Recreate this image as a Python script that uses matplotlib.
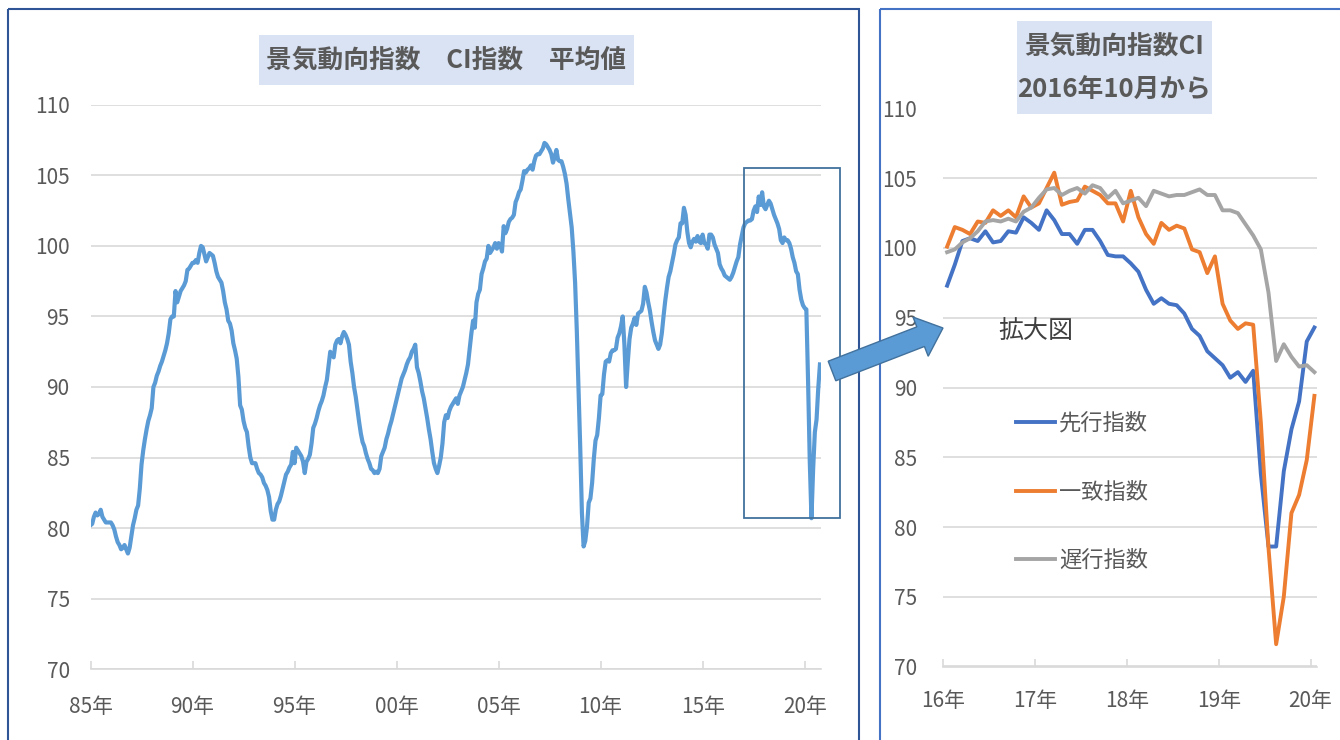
import matplotlib.pyplot as plt
from matplotlib.patches import Rectangle, FancyArrow
from matplotlib.transforms import Affine2D

plt.rcParams['font.family'] = ['Noto Sans CJK JP', 'DejaVu Sans']

W, H = 1340, 740

# 景気動向指数 CI 平均値, monthly, Jan 1985 - Oct 2020
ci_avg = [
    80.2, 80.3, 80.8, 81.1, 80.9, 81.0, 81.3, 80.8, 80.6, 80.4, 80.4, 80.4,        # 1985
    80.4, 80.2, 79.9, 79.4, 79.0, 78.8, 78.5, 78.6, 78.8, 78.5, 78.2, 78.6,        # 1986
    79.4, 80.2, 80.7, 81.3, 81.6, 82.8, 84.5, 85.5, 86.3, 87.0, 87.6, 88.0,        # 1987
    88.5, 90.0, 90.3, 90.8, 91.1, 91.5, 91.8, 92.2, 92.6, 93.1, 93.8, 94.8,        # 1988
    95.0, 95.0, 96.8, 96.0, 96.4, 96.8, 97.0, 97.2, 97.5, 98.3, 98.4, 98.6,        # 1989
    98.8, 98.8, 99.0, 98.8, 99.5, 100.0, 99.9, 99.4, 98.9, 99.2, 99.5, 99.4,       # 1990
    99.3, 98.8, 98.2, 97.8, 97.6, 97.4, 96.8, 96.0, 95.5, 94.7, 94.5, 94.0,        # 1991
    93.1, 92.6, 92.0, 90.7, 88.7, 88.4, 87.6, 87.1, 86.8, 85.8, 85.0, 84.6,        # 1992
    84.6, 84.6, 84.2, 83.9, 83.8, 83.6, 83.2, 83.0, 82.7, 82.2, 81.2, 80.6,        # 1993
    80.6, 81.3, 81.7, 81.9, 82.3, 82.8, 83.3, 83.8, 84.0, 84.3, 84.5, 85.4,        # 1994
    84.6, 85.7, 85.5, 85.3, 85.1, 84.7, 83.9, 84.7, 84.9, 85.2, 86.0, 87.1,        # 1995
    87.4, 87.8, 88.3, 88.7, 89.0, 89.4, 90.0, 90.5, 91.5, 92.5, 92.3, 92.1,        # 1996
    93.0, 93.3, 93.4, 93.1, 93.6, 93.9, 93.7, 93.4, 93.0, 91.8, 91.0, 90.0,        # 1997
    89.3, 88.4, 87.5, 86.7, 86.1, 85.8, 85.3, 84.9, 84.6, 84.2, 84.1, 83.9,        # 1998
    84.0, 83.9, 84.2, 85.1, 85.4, 85.7, 86.3, 86.7, 87.2, 87.6, 88.1, 88.6,        # 1999
    89.1, 89.6, 90.1, 90.6, 90.9, 91.2, 91.6, 91.9, 92.1, 92.5, 92.7, 93.0,        # 2000
    91.4, 91.0, 90.4, 89.7, 89.2, 88.5, 87.8, 87.0, 86.3, 85.4, 84.6, 84.2,        # 2001
    83.9, 84.4, 85.0, 86.0, 87.5, 88.0, 87.8, 88.3, 88.6, 88.8, 89.0, 89.2,        # 2002
    88.8, 89.4, 89.7, 90.0, 90.5, 91.0, 91.6, 92.7, 93.8, 94.7, 94.2, 96.0,        # 2003
    96.6, 96.9, 98.0, 98.4, 98.9, 99.1, 100.0, 99.5, 99.7, 99.9, 100.2, 99.8,      # 2004
    100.2, 100.1, 99.6, 101.4, 100.9, 101.2, 101.7, 101.9, 102.0, 102.2, 103.1, 103.4,  # 2005
    103.8, 104.0, 104.6, 105.3, 105.2, 105.4, 105.5, 105.7, 105.4, 106.0, 106.4, 106.5,  # 2006
    106.5, 106.7, 106.9, 107.3, 107.2, 107.0, 106.8, 106.5, 105.9, 106.3, 106.8, 106.1,  # 2007
    106.0, 106.0, 105.6, 105.1, 104.4, 103.3, 102.3, 101.3, 99.6, 97.4, 94.0, 90.0,      # 2008
    85.8, 81.1, 78.7, 79.1, 80.1, 81.8, 82.1, 83.2, 84.9, 86.2, 86.6, 87.8,        # 2009
    89.4, 89.5, 90.9, 91.8, 91.9, 91.8, 92.4, 92.6, 92.6, 92.7, 93.5, 93.8,        # 2010
    94.3, 95.0, 93.0, 90.0, 91.8, 93.4, 94.2, 94.5, 94.9, 94.4, 95.2, 95.3,        # 2011
    95.4, 95.9, 97.1, 96.7, 96.0, 95.4, 94.6, 93.9, 93.3, 93.0, 92.7, 93.0,        # 2012
    93.8, 95.0, 96.1, 97.0, 97.8, 98.2, 98.8, 99.4, 100.1, 100.4, 100.6, 101.6,    # 2013
    101.6, 102.7, 102.2, 101.0, 100.2, 99.9, 100.3, 100.5, 100.3, 100.7, 100.3, 100.2,  # 2014
    100.8, 100.2, 100.1, 99.8, 100.8, 100.8, 100.6, 100.1, 99.8, 99.5, 98.7, 98.4,      # 2015
    98.2, 97.9, 97.8, 97.7, 97.6, 97.8, 98.1, 98.5, 98.9, 99.2, 100.1, 100.7,           # 2016
    101.3, 101.6, 101.7, 101.8, 101.8, 101.9, 102.5, 102.8, 102.4, 103.5, 102.9, 103.8, # 2017
    102.8, 102.6, 102.9, 103.2, 103.0, 102.6, 102.2, 101.9, 101.6, 101.2, 100.4, 100.2, # 2018
    100.6, 100.4, 100.4, 100.2, 99.8, 99.2, 98.8, 98.2, 98.0, 96.9, 96.2, 95.8,         # 2019
    95.6, 95.5, 90.5, 84.8, 80.7, 84.2, 86.8, 87.7, 89.9, 91.6,                         # 2020
]
left_labels = ['85年', '90年', '95年', '00年', '05年', '10年', '15年', '20年']

# 2016年10月から (Oct 2016 - Oct 2020)
leading = [
    97.3, 98.8, 100.5, 100.7, 100.5, 101.2, 100.4, 100.5, 101.2, 101.1, 102.2, 101.8,
    101.3, 102.7, 102.0, 101.0, 101.0, 100.3, 101.3, 101.3, 100.5, 99.5, 99.4, 99.4,
    98.9, 98.3, 97.0, 96.0, 96.4, 96.0, 95.9, 95.3, 94.2, 93.7, 92.6, 92.1,
    91.6, 90.7, 91.1, 90.4, 91.2, 83.8, 78.6, 78.6, 84.0, 87.0, 89.0, 93.3, 94.3,
]
coincident = [
    100.1, 101.5, 101.3, 101.0, 101.9, 101.8, 102.7, 102.3, 102.7, 102.2, 103.7, 102.9,
    103.2, 104.3, 105.4, 103.1, 103.3, 103.4, 104.4, 104.1, 103.8, 103.2, 103.2, 101.9,
    104.1, 102.2, 101.0, 100.3, 101.8, 101.3, 101.6, 101.4, 99.9, 99.7, 98.2, 99.4,
    96.0, 94.8, 94.2, 94.6, 94.5, 87.5, 78.5, 71.6, 75.0, 81.0, 82.3, 84.8, 89.4,
]
lagging = [
    99.7, 99.9, 100.4, 100.7, 101.2, 101.9, 102.0, 101.9, 102.1, 101.9, 102.6, 102.9,
    103.6, 104.2, 104.3, 103.8, 104.1, 104.3, 103.9, 104.5, 104.3, 103.6, 104.1, 103.2,
    103.4, 103.6, 103.0, 104.1, 103.9, 103.7, 103.8, 103.8, 104.0, 104.2, 103.8, 103.8,
    102.7, 102.7, 102.5, 101.7, 100.9, 99.9, 96.8, 91.9, 93.1, 92.2, 91.5, 91.6, 91.1,
]
right_labels = ['16年', '17年', '18年', '19年', '20年']
series_names = ['先行指数', '一致指数', '遅行指数']
series_colors = ['#4472c4', '#ed7d31', '#a5a5a5']

TXT = '#595959'
GRID = '#d9d9d9'

fig = plt.figure(figsize=(W / 100, H / 100), dpi=100)
# pixel coordinates of the picture (origin top-left)
px = Affine2D().scale(1 / W, -1 / H).translate(0, 1) + fig.transFigure


def rect(x0, y0, x1, y1):
    return [x0 / W, 1 - y1 / H, (x1 - x0) / W, (y1 - y0) / H]


def style(ax, ticks, labels, xpad, ypad):
    ax.set_ylim(70, 110)
    ax.set_yticks(range(70, 111, 5))
    ax.grid(axis='y', color=GRID, lw=1.2)
    ax.set_axisbelow(True)
    for s in ['top', 'right', 'left']:
        ax.spines[s].set_visible(False)
    ax.spines['bottom'].set_color(GRID)
    ax.spines['bottom'].set_linewidth(1.2)
    ax.set_xticks(ticks, labels)
    ax.tick_params(axis='x', direction='in', length=6, width=1.2, color=GRID,
                   labelsize=15, labelcolor=TXT, pad=xpad)
    ax.tick_params(axis='y', length=0, pad=ypad, labelsize=15, labelcolor=TXT)


# left chart
ax1 = fig.add_axes(rect(90.5, 104.8, 820.8, 669.2))
ax1.plot(range(len(ci_avg)), ci_avg, color='#5b9bd5', lw=3, solid_joinstyle='round')
ax1.set_xlim(0, len(ci_avg) - 0.5)
style(ax1, range(0, len(ci_avg), 60), left_labels, 19, 15)

# right chart
ax2 = fig.add_axes(rect(943.3, 108.5, 1316.7, 666.5))
for vals, name, c in zip([leading, coincident, lagging], series_names, series_colors):
    ax2.plot(range(len(vals)), vals, color=c, lw=2.8, label=name, solid_joinstyle='round')
ax2.set_xlim(-0.5, len(leading) - 0.7)
style(ax2, [i - 0.5 for i in range(0, len(leading), 12)], right_labels, 17, 19)
ax2.legend(loc='upper left', bbox_to_anchor=(1016, 412), bbox_transform=px,
           frameon=False, fontsize=16, labelcolor=TXT, borderpad=0, borderaxespad=0,
           handlelength=1.75, handletextpad=0.2, labelspacing=2.05)

# panel frames
fig.add_artist(Rectangle((8, 9), 851, 745, transform=px, fill=False, ec='#2f5597', lw=1.5))
fig.add_artist(Rectangle((880, 9), 470, 745, transform=px, fill=False, ec='#4472c4', lw=1.5))

# title boxes
fig.add_artist(Rectangle((259, 34.5), 375, 50.5, transform=px, fc='#dae3f3', ec='none', zorder=2))
fig.text(446.5, 60, '景気動向指数　CI指数　平均値', transform=px, ha='center', va='center',
         fontsize=18.5, fontweight='bold', color=TXT, zorder=3)
fig.add_artist(Rectangle((1017, 21), 195, 93, transform=px, fc='#dae3f3', ec='none', zorder=2))
fig.text(1114, 46, '景気動向指数CI', transform=px, ha='center', va='center',
         fontsize=18.5, fontweight='bold', color=TXT, zorder=3)
fig.text(1114, 90, '2016年10月から', transform=px, ha='center', va='center',
         fontsize=18.5, fontweight='bold', color=TXT, zorder=3)

# zoom box and arrow
fig.add_artist(Rectangle((743.6, 167.5), 96.6, 350.2, transform=px, fill=False,
                         ec='#41719c', lw=1.3, zorder=3))
fig.add_artist(FancyArrow(832, 371, 111, -43, width=21, head_width=42, head_length=24,
                          length_includes_head=True, transform=px,
                          fc='#5b9bd5', ec='#41719c', lw=1, zorder=10))
fig.text(998, 331, '拡大図', transform=px, ha='left', va='center',
         fontsize=18, color='#404040', zorder=3)

fig.savefig('out.png', dpi=100)
